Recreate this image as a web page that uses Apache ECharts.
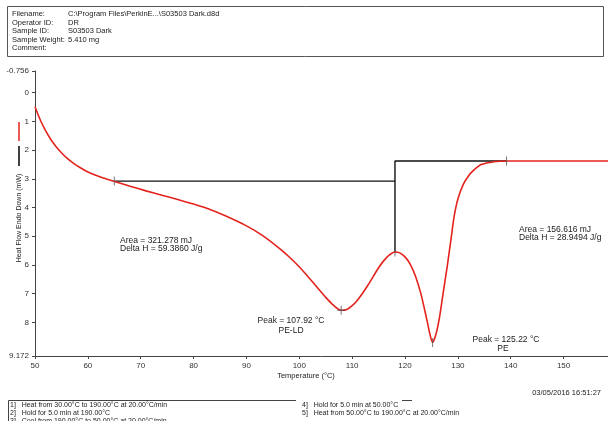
<!DOCTYPE html>
<html>
<head>
<meta charset="utf-8">
<script src="https://cdn.jsdelivr.net/npm/echarts@6/dist/echarts.min.js"></script>
<style>
  html, body { margin: 0; padding: 0; background: #fff; }
  #chart { width: 608px; height: 421px; }
</style>
</head>
<body>
<div id="chart"></div>
<script>
// DSC heating scan: temperature (°C) and heat flow (mW, endo down)
var temperature = [50, 51, 52, 53, 54, 55, 56, 57, 58, 59, 60, 62, 64.6, 68, 71, 74, 77, 80, 83, 86, 90, 93, 96.4, 99, 101, 103, 105, 106.5, 107.9, 109, 110, 111, 112, 113, 114, 115, 116, 117, 118.1, 119, 120, 121, 122, 123, 124, 124.7, 125.2, 125.8, 126.5, 127.2, 128, 128.7, 129.3, 130, 131, 132, 133, 134.3, 136, 138, 139.2, 145, 150, 158.4];
var heatFlow    = [0.49, 0.95, 1.32, 1.63, 1.88, 2.09, 2.27, 2.42, 2.55, 2.66, 2.76, 2.91, 3.07, 3.26, 3.42, 3.57, 3.72, 3.88, 4.06, 4.29, 4.64, 4.97, 5.45, 5.88, 6.27, 6.70, 7.13, 7.41, 7.58, 7.55, 7.42, 7.23, 6.98, 6.70, 6.40, 6.10, 5.85, 5.66, 5.55, 5.58, 5.72, 5.98, 6.40, 7.00, 7.80, 8.40, 8.70, 8.45, 7.85, 7.00, 6.03, 5.10, 4.30, 3.70, 3.20, 2.90, 2.70, 2.51, 2.43, 2.39, 2.38, 2.38, 2.38, 2.38];

// integration baselines (partial-area split at the valley)
var baselineT = [65.0, 118.1, 118.1, 118.1, 139.2];
var baselineV = [3.08, 3.08, 5.55, 2.38, 2.38];

// analysis markers: limits and peak positions
var markerT = [65.0, 107.92, 118.1, 125.22, 139.2];
var markerV = [3.08, 7.58, 5.55, 8.70, 2.38];

var xTicks = [50, 60, 70, 80, 90, 100, 110, 120, 130, 140, 150];
var yTicks = [-0.756, 0, 1, 2, 3, 4, 5, 6, 7, 8, 9.172];

var headerLabels = ['Filename:', 'Operator ID:', 'Sample ID:', 'Sample Weight:', 'Comment:'];
var headerValues = ['C:\\Program Files\\PerkinE...\\S03503 Dark.d8d', 'DR', 'S03503 Dark', '5.410 mg', ''];
var methodSteps = [
  '1]   Heat from 30.00°C to 190.00°C at 20.00°C/min',
  '2]   Hold for 5.0 min at 190.00°C',
  '3]   Cool from 190.00°C to 50.00°C at 20.00°C/min',
  '4]   Hold for 5.0 min at 50.00°C',
  '5]   Heat from 50.00°C to 190.00°C at 20.00°C/min'
];

var FONT = '"Liberation Sans", Arial, sans-serif';
var RED = '#e3231c';

function zip(a, b) { return a.map(function (v, i) { return [v, b[i]]; }); }

var chart = echarts.init(document.getElementById('chart'), null, { renderer: 'canvas' });

var graphics = [];
// header box
graphics.push({ type: 'rect', shape: { x: 7.5, y: 6.5, width: 596, height: 50 },
  style: { fill: 'none', stroke: '#555', lineWidth: 1 } });
headerLabels.forEach(function (lbl, i) {
  var y = 14 + i * 8.5;
  graphics.push({ type: 'text', style: { text: lbl, x: 12, y: y, font: '7.5px ' + FONT, fill: '#222', verticalAlign: 'middle' } });
  if (headerValues[i]) {
    graphics.push({ type: 'text', style: { text: headerValues[i], x: 68, y: y, font: '7.5px ' + FONT, fill: '#222', verticalAlign: 'middle' } });
  }
});
// y-axis title with curve keys
graphics.push({ type: 'line', shape: { x1: 19, y1: 122, x2: 19, y2: 141 }, style: { stroke: RED, lineWidth: 1.5 } });
graphics.push({ type: 'line', shape: { x1: 19, y1: 146, x2: 19, y2: 166 }, style: { stroke: '#000', lineWidth: 1.5 } });
graphics.push({ type: 'text', x: 19, y: 218, rotation: Math.PI / 2,
  style: { text: 'Heat Flow Endo Down (mW)', x: 0, y: 0, font: '7px ' + FONT, fill: '#222', align: 'center', verticalAlign: 'middle' } });
// x-axis title
graphics.push({ type: 'text', style: { text: 'Temperature (°C)', x: 306, y: 376, font: '7.5px ' + FONT, fill: '#222', align: 'center', verticalAlign: 'middle' } });
// annotations
function note(txt, x, y, align) {
  graphics.push({ type: 'text', style: { text: txt, x: x, y: y, font: '8.5px ' + FONT, fill: '#222', align: align || 'left', verticalAlign: 'middle' } });
}
note('Area = 321.278 mJ', 120, 241);
note('Delta H = 59.3860 J/g', 120, 249);
note('Area = 156.616 mJ', 519, 230);
note('Delta H = 28.9494 J/g', 519, 238);
note('Peak = 107.92 °C', 291, 321, 'center');
note('PE-LD', 291, 331, 'center');
note('Peak = 125.22 °C', 506, 340, 'center');
note('PE', 503, 349, 'center');
// date stamp
graphics.push({ type: 'text', style: { text: '03/05/2016 16:51:27', x: 601, y: 393, font: '7.5px ' + FONT, fill: '#222', align: 'right', verticalAlign: 'middle' } });
// method steps
var stepPos = [[10, 405], [10, 413], [10, 421], [302, 405], [302, 413]];
methodSteps.forEach(function (s, i) {
  graphics.push({ type: 'text', style: { text: s, x: stepPos[i][0], y: stepPos[i][1], font: '7px ' + FONT, fill: '#222', verticalAlign: 'middle' } });
});
graphics.push({ type: 'polyline', shape: { points: [[8.5, 421], [8.5, 400.5], [296, 400.5]] }, style: { stroke: '#444', lineWidth: 1, fill: 'none' } });
graphics.push({ type: 'line', shape: { x1: 402, y1: 400.5, x2: 412, y2: 400.5 }, style: { stroke: '#444', lineWidth: 1 } });

var option = {
  animation: false,
  backgroundColor: '#fff',
  textStyle: { fontFamily: FONT },
  grid: { left: 35, right: 0, top: 71, bottom: 65, containLabel: false },
  xAxis: {
    type: 'value', min: 50, max: 158.4,
    axisLine: { onZero: false, lineStyle: { color: '#444', width: 1 } },
    axisTick: { customValues: xTicks, length: 3, lineStyle: { color: '#444' } },
    axisLabel: { customValues: xTicks, fontSize: 8, color: '#333', margin: 6 },
    splitLine: { show: false }
  },
  yAxis: {
    type: 'value', min: -0.756, max: 9.172, inverse: true,
    axisLine: { show: true, onZero: false, lineStyle: { color: '#444', width: 1 } },
    axisTick: { show: true, customValues: yTicks, length: 3, lineStyle: { color: '#444' } },
    axisLabel: { customValues: yTicks, fontSize: 8, color: '#333', margin: 6,
      formatter: function (v) { return String(v); } },
    splitLine: { show: false }
  },
  graphic: graphics,
  series: [
    {
      type: 'line', data: zip(temperature, heatFlow), smooth: 0.25, symbol: 'none',
      lineStyle: { color: RED, width: 1.6 }, z: 3
    },
    {
      type: 'line', data: zip(baselineT, baselineV), smooth: false, symbol: 'none',
      lineStyle: { color: '#111', width: 1.4 }, z: 2
    },
    {
      type: 'scatter', data: zip(markerT, markerV), symbol: 'rect', symbolSize: [1, 9],
      itemStyle: { color: '#555' }, z: 4
    },
    {
      type: 'scatter', data: [[markerT[1], markerV[1]]], symbol: 'rect', symbolSize: [8, 1],
      itemStyle: { color: '#555' }, z: 4
    }
  ]
};
chart.setOption(option);
</script>
</body>
</html>
